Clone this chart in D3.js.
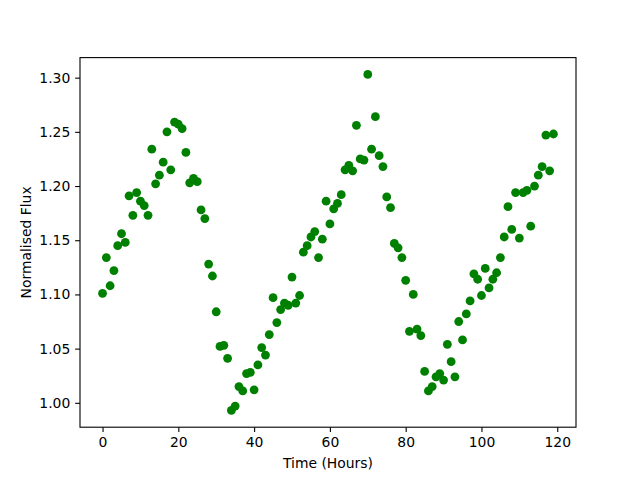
<!DOCTYPE html>
<html>
<head>
<meta charset="utf-8">
<script src="https://cdn.jsdelivr.net/npm/d3@7"></script>
<style>
  body { margin: 0; background: #fff; }
  text { font-family: "DejaVu Sans", sans-serif; }
</style>
</head>
<body>
<script>
var width = 640;
var height = 480;

// hours since start
var hours = d3.range(0, 120);

// normalised flux
var flux = [
  1.101, 1.134, 1.108, 1.122, 1.145, 1.156, 1.148, 1.191, 1.173, 1.194,
  1.186, 1.182, 1.173, 1.234, 1.202, 1.210, 1.222, 1.250, 1.215, 1.259,
  1.257, 1.253, 1.231, 1.203, 1.207, 1.204, 1.178, 1.170, 1.128, 1.117,
  1.084, 1.052, 1.053, 1.041, 0.993, 0.997, 1.015, 1.011, 1.027, 1.028,
  1.012, 1.035, 1.051, 1.044, 1.063, 1.097, 1.074, 1.086, 1.092, 1.090,
  1.116, 1.092, 1.099, 1.139, 1.145, 1.153, 1.158, 1.134, 1.151, 1.186,
  1.165, 1.179, 1.184, 1.192, 1.215, 1.219, 1.214, 1.256, 1.225, 1.224,
  1.303, 1.234, 1.264, 1.228, 1.218, 1.190, 1.180, 1.147, 1.143, 1.134,
  1.113, 1.066, 1.100, 1.068, 1.062, 1.029, 1.011, 1.015, 1.024, 1.027,
  1.021, 1.054, 1.038, 1.024, 1.075, 1.058, 1.082, 1.094, 1.119, 1.114,
  1.099, 1.124, 1.106, 1.114, 1.120, 1.134, 1.153, 1.181, 1.160, 1.194,
  1.152, 1.194, 1.196, 1.163, 1.200, 1.210, 1.218, 1.247, 1.214, 1.248
];

var xTicks = [0, 20, 40, 60, 80, 100, 120];
var yTicks = [1.00, 1.05, 1.10, 1.15, 1.20, 1.25, 1.30];

var plotL = 80, plotR = 576, plotT = 57.6, plotB = 427.2;

function padded(ext) {
  var m = (ext[1] - ext[0]) * 0.05;
  return [ext[0] - m, ext[1] + m];
}

var x = d3.scaleLinear().domain(padded(d3.extent(hours))).range([plotL, plotR]);
var y = d3.scaleLinear().domain(padded(d3.extent(flux))).range([plotB, plotT]);

var svg = d3.select('body').append('svg')
    .attr('width', width)
    .attr('height', height);

svg.append('rect')
    .attr('width', width).attr('height', height)
    .attr('fill', '#fff');

// points
svg.append('g').selectAll('circle')
    .data(hours)
  .enter().append('circle')
    .attr('cx', function(d) { return x(d); })
    .attr('cy', function(d, i) { return y(flux[i]); })
    .attr('r', 4.4)
    .attr('fill', '#008000');

// axes
var xAxis = svg.append('g')
    .attr('transform', 'translate(0,' + plotB + ')')
    .call(d3.axisBottom(x).tickValues(xTicks).tickFormat(d3.format('d'))
      .tickSizeInner(4.86).tickSizeOuter(0).tickPadding(4.86));

var yAxis = svg.append('g')
    .attr('transform', 'translate(' + plotL + ',0)')
    .call(d3.axisLeft(y).tickValues(yTicks).tickFormat(d3.format('.2f'))
      .tickSizeInner(4.86).tickSizeOuter(0).tickPadding(4.86));

[xAxis, yAxis].forEach(function(a) {
  a.select('.domain').remove();
  a.selectAll('line').attr('stroke', '#000').attr('stroke-width', 1.1);
  a.selectAll('text')
      .attr('font-family', 'DejaVu Sans')
      .attr('font-size', 13.9)
      .attr('fill', '#000');
});

// frame
svg.append('rect')
    .attr('x', plotL).attr('y', plotT)
    .attr('width', plotR - plotL).attr('height', plotB - plotT)
    .attr('fill', 'none')
    .attr('stroke', '#000')
    .attr('stroke-width', 1.1);

// labels
svg.append('text')
    .attr('x', (plotL + plotR) / 2)
    .attr('y', 468)
    .attr('text-anchor', 'middle')
    .attr('font-size', 13.9)
    .text('Time (Hours)');

svg.append('text')
    .attr('transform', 'translate(31,' + ((plotT + plotB) / 2) + ') rotate(-90)')
    .attr('text-anchor', 'middle')
    .attr('font-size', 13.9)
    .text('Normalised Flux');
</script>
</body>
</html>
